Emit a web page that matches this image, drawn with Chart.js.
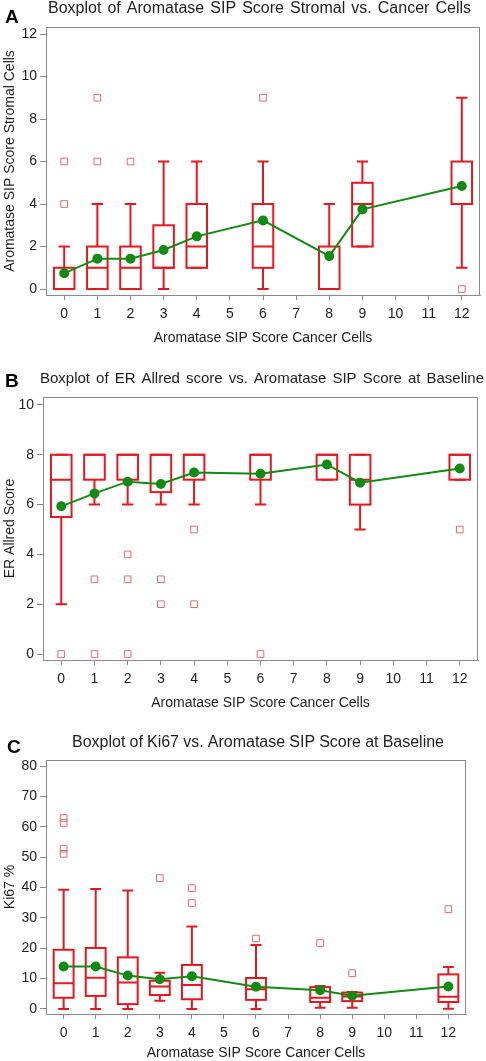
<!DOCTYPE html>
<html>
<head>
<meta charset="utf-8">
<script src="https://cdn.jsdelivr.net/npm/chart.js@4.4.1/dist/chart.umd.min.js"></script>
<style>
  html, body { margin: 0; padding: 0; background: #fff; overflow: hidden; }
  .panel { position: absolute; left: 0; }
</style>
</head>
<body>
<div class="panel" style="top:0"><canvas id="chartA" width="486" height="348"></canvas></div>
<div class="panel" style="top:348px"><canvas id="chartB" width="486" height="364"></canvas></div>
<div class="panel" style="top:712px"><canvas id="chartC" width="486" height="350"></canvas></div>
<script>
'use strict';

/* ── shared categories / ticks ─────────────────────────── */
const X_TICKS = [0, 1, 2, 3, 4, 5, 6, 7, 8, 9, 10, 11, 12];
const GROUPS  = [0, 1, 2, 3, 4, 6, 8, 9, 12];
const X_TITLE = 'Aromatase SIP Score Cancer Cells';

/* ── A: stromal score ──────────────────────────────────── */
const A_YTICKS = [0, 2, 4, 6, 8, 10, 12];
const A_MIN  = [0, 0, 0, 0, 1, 0, 0, 2, 1];
const A_Q1   = [0, 0, 0, 1, 1, 1, 0, 2, 4];
const A_MED  = [0, 1, 1, 1, 2, 2, 0, 4, 4];
const A_Q3   = [1, 2, 2, 3, 4, 4, 2, 5, 6];
const A_MAX  = [2, 4, 4, 6, 6, 6, 4, 6, 9];
const A_MEAN = [0.74, 1.43, 1.43, 1.84, 2.48, 3.23, 1.55, 3.75, 4.85];
const A_OUT_X = [0, 0, 1, 1, 2, 6, 12];
const A_OUT_Y = [4, 6, 6, 9, 6, 9, 0];

/* ── B: ER Allred score ────────────────────────────────── */
const B_YTICKS = [0, 2, 4, 6, 8, 10];
const B_MIN  = [2, 6, 6, 6, 6, 6, 7, 5, 7];
const B_Q1   = [5.5, 7, 7, 6.5, 7, 7, 7, 6, 7];
const B_MED  = [7, 8, 8, 8, 8, 8, 8, 7, 8];
const B_Q3   = [8, 8, 8, 8, 8, 8, 8, 8, 8];
const B_MAX  = [8, 8, 8, 8, 8, 8, 8, 8, 8];
const B_MEAN = [5.93, 6.45, 6.92, 6.83, 7.29, 7.24, 7.61, 6.88, 7.45];
const B_OUT_X = [0, 1, 1, 2, 2, 2, 3, 3, 4, 4, 6, 12];
const B_OUT_Y = [0, 3, 0, 4, 3, 0, 3, 2, 5, 2, 0, 5];

/* ── C: Ki67 % ─────────────────────────────────────────── */
const C_YTICKS = [0, 10, 20, 30, 40, 50, 60, 70, 80];
const C_MIN  = [0, 0, 0, 2.7, 0, 0, 0.4, 0.4, 0.1];
const C_Q1   = [3.7, 4.3, 1.6, 4.6, 3.2, 3, 2.3, 2.6, 2.3];
const C_MED  = [8.5, 10.3, 8.7, 7.4, 7.9, 6.5, 3.7, 4.1, 4];
const C_Q3   = [19.5, 20.1, 17, 9.3, 14.5, 10.2, 7.2, 5.4, 11.4];
const C_MAX  = [39.3, 39.5, 39, 11.9, 27.2, 21.1, 7.6, 5.6, 13.8];
const C_MEAN = [14, 14, 11, 9.8, 10.8, 7.3, 6.2, 4.4, 7.4];
const C_OUT_X = [0, 0, 0, 0, 3, 4, 4, 6, 8, 9, 12];
const C_OUT_Y = [62.9, 61.3, 52.8, 51.1, 43.1, 39.8, 34.9, 23.2, 21.7, 11.8, 32.9];

/* ── styling ───────────────────────────────────────────── */
const RED     = '#e3191f';
const PINK    = '#e46a6a';
const GREEN   = '#138a13';
const FRAME   = '#8a8a8a';
const INK     = '#1e1e1e';
const FONT    = '"Liberation Sans", Arial, sans-serif';
const BOX_W   = 0.62;   // in x units
const CAP_W   = 0.34;

Chart.defaults.font.family = FONT;
Chart.defaults.color = INK;

const pts   = (xs, ys) => xs.map((x, i) => ({ x, y: ys[i] }));
const boxes = (mn, q1, md, q3, mx) =>
  GROUPS.map((x, i) => ({ x, min: mn[i], q1: q1[i], med: md[i], q3: q3[i], max: mx[i] }));

/* box + whiskers, drawn under the datasets through the chart's own scales */
const BOXES = {};
const boxPlugin = {
  id: 'boxes',
  beforeDatasetsDraw(chart) {
    const { ctx, chartArea: a, scales: { x, y } } = chart;
    ctx.save();
    ctx.strokeStyle = FRAME;
    ctx.lineWidth = 1;
    ctx.strokeRect(a.left + 0.5, a.top + 0.5, a.right - a.left - 1, a.bottom - a.top);
    ctx.strokeStyle = RED;
    ctx.lineWidth = 2;
    (BOXES[chart.canvas.id] || []).forEach(b => {
      const cx = x.getPixelForValue(b.x);
      const hw = x.getPixelForValue(b.x + BOX_W / 2) - cx;
      const cw = x.getPixelForValue(b.x + CAP_W / 2) - cx;
      const py = v => y.getPixelForValue(v);
      ctx.beginPath();
      ctx.moveTo(cx, py(b.q3));      ctx.lineTo(cx, py(b.max));
      ctx.moveTo(cx - cw, py(b.max)); ctx.lineTo(cx + cw, py(b.max));
      ctx.moveTo(cx, py(b.q1));      ctx.lineTo(cx, py(b.min));
      ctx.moveTo(cx - cw, py(b.min)); ctx.lineTo(cx + cw, py(b.min));
      ctx.moveTo(cx - hw, py(b.med)); ctx.lineTo(cx + hw, py(b.med));
      ctx.stroke();
      ctx.strokeRect(cx - hw, py(b.q3), 2 * hw, py(b.q1) - py(b.q3));
    });
    ctx.restore();
  }
};

/* panel letter + title, stretched across the word gaps like the original */
const HEADS = {};
const headPlugin = {
  id: 'heads',
  afterDraw(chart) {
    const h = HEADS[chart.canvas.id];
    if (!h) return;
    const ctx = chart.ctx;
    ctx.save();
    ctx.fillStyle = '#000';
    ctx.textBaseline = 'alphabetic';
    ctx.font = `bold 19px ${FONT}`;
    ctx.fillText(h.letter, h.lx, h.ly);
    ctx.fillStyle = INK;
    ctx.font = `${h.size}px ${FONT}`;
    const w0 = ctx.measureText(h.text).width;
    const gaps = h.text.split(' ').length - 1;
    ctx.wordSpacing = ((h.x1 - h.x0 - w0) / gaps) + 'px';
    ctx.fillText(h.text, h.x0, h.ty);
    ctx.restore();
  }
};

function makeChart(id, c) {
  BOXES[id] = c.boxes;
  HEADS[id] = c.head;
  return new Chart(document.getElementById(id), {
    data: {
      datasets: [
        {
          type: 'scatter', data: c.outliers, order: 2,
          pointStyle: 'rect', pointRadius: 4.7,
          borderColor: PINK, borderWidth: 1, backgroundColor: 'rgba(255,255,255,0)'
        },
        {
          type: 'line', data: c.means, order: 1,
          borderColor: GREEN, borderWidth: 2, tension: 0,
          pointRadius: 4, pointBackgroundColor: GREEN, pointBorderColor: GREEN
        }
      ]
    },
    options: {
      responsive: false,
      animation: false,
      layout: { padding: { top: c.top, right: c.right, bottom: 0, left: 0 } },
      plugins: { legend: { display: false }, tooltip: { enabled: false } },
      scales: {
        x: {
          type: 'linear', min: -0.55, max: 12.55,
          afterBuildTicks: s => { s.ticks = X_TICKS.map(v => ({ value: v })); },
          afterFit: s => { s.height = c.xH; },
          grid: { drawOnChartArea: false, drawTicks: true, tickLength: 5, color: FRAME },
          border: { color: FRAME },
          ticks: { padding: 6, color: INK, font: { size: 14 }, maxRotation: 0, autoSkip: false },
          title: { display: true, text: X_TITLE, color: INK, font: { size: 14 },
                   padding: { top: 0, bottom: c.xtPad } }
        },
        y: {
          type: 'linear', min: c.yMin, max: c.yMax,
          afterBuildTicks: s => { s.ticks = c.yTicks.map(v => ({ value: v })); },
          afterFit: s => { s.width = c.yW; },
          grid: { drawOnChartArea: false, drawTicks: true, tickLength: 6, color: FRAME },
          border: { color: FRAME },
          ticks: { padding: 3, color: INK, font: { size: 14 }, autoSkip: false },
          title: { display: true, text: c.yTitle, color: INK, font: { size: 14 },
                   padding: { top: 2, bottom: 0 } }
        }
      }
    },
    plugins: [boxPlugin, headPlugin]
  });
}

makeChart('chartA', {
  boxes: boxes(A_MIN, A_Q1, A_MED, A_Q3, A_MAX),
  means: pts(GROUPS, A_MEAN),
  outliers: pts(A_OUT_X, A_OUT_Y),
  yTicks: A_YTICKS, yMin: -0.28, yMax: 12.33,
  yTitle: 'Aromatase SIP Score Stromal Cells',
  top: 27, right: 6, xH: 53, yW: 46, xtPad: 1.6,
  head: { letter: 'A', lx: 5, ly: 23, size: 16,
          text: 'Boxplot of Aromatase SIP Score Stromal vs. Cancer Cells', x0: 48, x1: 471, ty: 13 }
});

makeChart('chartB', {
  boxes: boxes(B_MIN, B_Q1, B_MED, B_Q3, B_MAX),
  means: pts(GROUPS, B_MEAN),
  outliers: pts(B_OUT_X, B_OUT_Y),
  yTicks: B_YTICKS, yMin: -0.24, yMax: 10.32,
  yTitle: 'ER Allred Score',
  top: 49, right: 8, xH: 52, yW: 43, xtPad: 0.6,
  head: { letter: 'B', lx: 5, ly: 39, size: 15,
          text: 'Boxplot of ER Allred score vs. Aromatase SIP Score at Baseline', x0: 40, x1: 484, ty: 35 }
});

makeChart('chartC', {
  boxes: boxes(C_MIN, C_Q1, C_MED, C_Q3, C_MAX),
  means: pts(GROUPS, C_MEAN),
  outliers: pts(C_OUT_X, C_OUT_Y),
  yTicks: C_YTICKS, yMin: -1.65, yMax: 82,
  yTitle: 'Ki67 %',
  top: 48, right: 20, xH: 48, yW: 46, xtPad: 0,
  head: { letter: 'C', lx: 7, ly: 41, size: 16,
          text: 'Boxplot of Ki67 vs. Aromatase SIP Score at Baseline', x0: 72, x1: 444, ty: 35 }
});
</script>
</body>
</html>
